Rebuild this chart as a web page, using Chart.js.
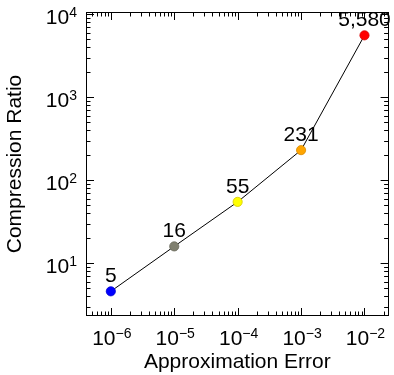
<!DOCTYPE html>
<html>
<head>
<meta charset="utf-8">
<script src="https://cdn.jsdelivr.net/npm/chart.js@4.4.0/dist/chart.umd.min.js"></script>
<style>
    html, body { margin: 0; padding: 0; background: #fff; }
    #wrap { width: 394px; height: 375px; }
</style>
</head>
<body>
<div id="wrap"><canvas id="ratioChart" width="394" height="375"></canvas></div>
<script>
const errors = [1e-6, 1e-5, 1e-4, 1e-3, 1e-2];
const ratios = [4.6, 16, 55, 231, 5580];
const pointColors = ['#0000ff', '#80806f', '#ffff00', '#ffa500', '#ff0000'];
const pointBorders = ['#0000d0', '#6a6a5c', '#d6c900', '#d98c00', '#d80000'];
const xTickExps = [-6, -5, -4, -3, -2];
const yTickExps = [1, 2, 3, 4];

const FONT = '"Liberation Sans", Arial, Helvetica, sans-serif';

function logTicks(min, max) {
    const out = [];
    for (let e = Math.floor(Math.log10(min)); e <= Math.ceil(Math.log10(max)); e++) {
        for (let m = 1; m <= 9; m++) {
            const v = m * Math.pow(10, e);
            if (v >= min && v <= max) out.push({ v, major: m === 1 });
        }
    }
    return out;
}

// "10" with a raised exponent
function drawPower(ctx, exp, x, baseline, align) {
    const base = '10';
    const sup = (exp < 0 ? '\u2212' : '') + Math.abs(exp);
    ctx.font = `21px ${FONT}`;
    const wb = ctx.measureText(base).width;
    ctx.font = `14px ${FONT}`;
    const ws = ctx.measureText(sup).width;
    let start = align === 'right' ? x - wb - ws : x - (wb + ws) / 2;
    ctx.textAlign = 'left';
    ctx.textBaseline = 'alphabetic';
    ctx.font = `21px ${FONT}`;
    ctx.fillText(base, start, baseline);
    ctx.font = `14px ${FONT}`;
    ctx.fillText(sup, start + wb, baseline - 7);
}

const frameAndTicks = {
    id: 'frameAndTicks',
    afterDraw(chart) {
        const { ctx, chartArea: a, scales: { x, y } } = chart;
        ctx.save();
        ctx.strokeStyle = '#000';
        ctx.lineWidth = 1;

        ctx.beginPath();
        logTicks(x.min, x.max).forEach(t => {
            const px = Math.round(x.getPixelForValue(t.v)) + 0.5;
            const len = t.major ? 8 : 4.5;
            ctx.moveTo(px, a.bottom);
            ctx.lineTo(px, a.bottom - len);
            ctx.moveTo(px, a.top);
            ctx.lineTo(px, a.top + len);
        });
        logTicks(y.min, y.max).forEach(t => {
            const py = Math.round(y.getPixelForValue(t.v)) + 0.5;
            const len = t.major ? 8 : 4.5;
            ctx.moveTo(a.left, py);
            ctx.lineTo(a.left + len, py);
            ctx.moveTo(a.right, py);
            ctx.lineTo(a.right - len, py);
        });
        ctx.stroke();

        ctx.strokeRect(Math.round(a.left) + 0.5, Math.round(a.top) + 0.5,
            Math.round(a.right - a.left) - 1, Math.round(a.bottom - a.top) - 1);

        ctx.fillStyle = '#000';
        xTickExps.forEach(e => {
            drawPower(ctx, e, x.getPixelForValue(Math.pow(10, e)) + 1, a.bottom + 29, 'center');
        });
        yTickExps.forEach(e => {
            drawPower(ctx, e, a.left - 9, y.getPixelForValue(Math.pow(10, e)) + 10, 'right');
        });
        ctx.restore();
    }
};

const pointLabels = {
    id: 'pointLabels',
    afterDatasetsDraw(chart) {
        const { ctx } = chart;
        const meta = chart.getDatasetMeta(0);
        ctx.save();
        ctx.fillStyle = '#000';
        ctx.font = `21px ${FONT}`;
        ctx.textAlign = 'center';
        ctx.textBaseline = 'alphabetic';
        meta.data.forEach((pt, i) => {
            ctx.fillText(Math.round(ratios[i]).toLocaleString('en-US'), pt.x, pt.y - 9);
        });
        ctx.restore();
    }
};

new Chart(document.getElementById('ratioChart'), {
    type: 'line',
    data: {
        datasets: [{
            data: errors.map((e, i) => ({ x: e, y: ratios[i] })),
            borderColor: '#000',
            borderWidth: 1,
            tension: 0,
            pointRadius: 4.6,
            pointBorderWidth: 0.8,
            pointBackgroundColor: pointColors,
            pointBorderColor: pointBorders
        }]
    },
    options: {
        responsive: false,
        animation: false,
        devicePixelRatio: 1,
        layout: { padding: { top: 12, right: 3, left: 0, bottom: 0 } },
        plugins: {
            legend: { display: false },
            tooltip: { enabled: false }
        },
        scales: {
            x: {
                type: 'logarithmic',
                min: 4.06e-7,
                max: 0.024,
                grid: { display: false },
                border: { display: false },
                ticks: { display: false },
                title: {
                    display: true,
                    text: 'Approximation Error',
                    color: '#000',
                    font: { family: FONT, size: 21 },
                    padding: { top: 0, bottom: 0 }
                },
                afterFit(scale) { scale.height = 59; }
            },
            y: {
                type: 'logarithmic',
                min: 2.32,
                max: 10660,
                grid: { display: false },
                border: { display: false },
                ticks: { display: false },
                title: {
                    display: true,
                    text: 'Compression Ratio',
                    color: '#000',
                    font: { family: FONT, size: 21 },
                    padding: { top: 3, bottom: 0 }
                },
                afterFit(scale) { scale.width = 86; }
            }
        }
    },
    plugins: [frameAndTicks, pointLabels]
});
</script>
</body>
</html>
